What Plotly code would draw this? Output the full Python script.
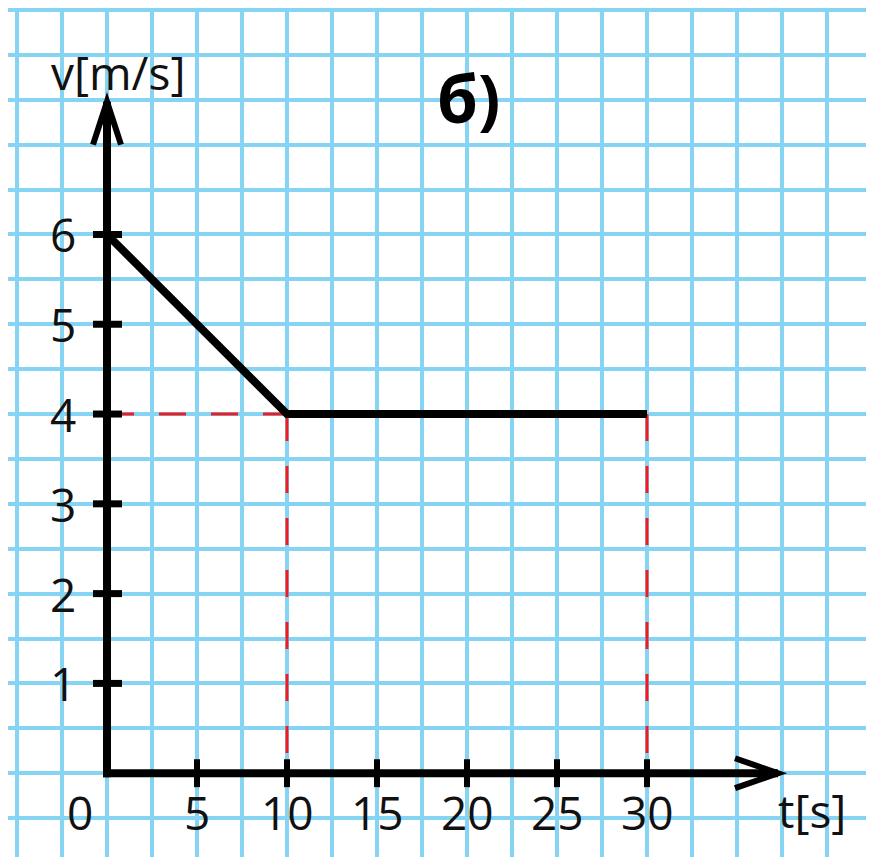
import plotly.graph_objects as go

# ---- data ----
t_values = [0, 10, 30]          # time [s]
v_values = [6, 4, 4]            # velocity [m/s]
x_ticks = [5, 10, 15, 20, 25, 30]
x_tick_labels = ["5", "10", "15", "20", "25", "30"]
y_ticks = [1, 2, 3, 4, 5, 6]
y_tick_labels = ["1", "2", "3", "4", "5", "6"]
guide_t = [10, 30]              # vertical red guides
guide_v = 4                     # horizontal red guide
x_label = "t[s]"
y_label = "v[m/s]"
title_text = "б)"

# ---- geometry ----
W, H = 866, 849          # page has an 8px body margin
OX, OY = 99, 765         # pixel position of origin inside the figure
PX_T, PX_V = 18, 90      # pixels per second, per m/s


def tx(px):
    return (px - OX) / PX_T


def vy(py):
    return (OY - py) / PX_V


X_MIN, X_MAX = tx(0), tx(W)
Y_MIN, Y_MAX = vy(H), vy(-2)
X_ARROW_TIP = tx(OX + 671)
Y_ARROW_TIP = vy(OY - 673)

BLACK = "#000000"
RED = "#ec1c24"
GRID = "#86d4f4"
FONT = "Open Sans"

fig = go.Figure()

# red dashed guides
fig.add_trace(go.Scatter(x=[0, guide_t[0]], y=[guide_v, guide_v], mode="lines",
                         line=dict(color=RED, width=3, dash="27px,25px"),
                         hoverinfo="skip", showlegend=False))
for gt in guide_t:
    fig.add_trace(go.Scatter(x=[gt, gt], y=[guide_v, 0], mode="lines",
                             line=dict(color=RED, width=3, dash="27px,25px"),
                             hoverinfo="skip", showlegend=False))

shapes = []
# axes
shapes.append(dict(type="line", xref="x", yref="y", x0=0, y0=-4 / PX_V, x1=0, y1=Y_ARROW_TIP,
                   line=dict(color=BLACK, width=8)))
shapes.append(dict(type="line", xref="x", yref="y", x0=-4 / PX_T, y0=0, x1=X_ARROW_TIP, y1=0,
                   line=dict(color=BLACK, width=8)))
# arrowheads
ax_dx = 14 / PX_T
ax_back_v = Y_ARROW_TIP - 43 / PX_V
shapes.append(dict(type="path", xref="x", yref="y",
                   path=f"M {-ax_dx} {ax_back_v} L 0 {Y_ARROW_TIP} L {ax_dx} {ax_back_v}",
                   line=dict(color=BLACK, width=6)))
ay_dv = 15 / PX_V
ay_back_t = X_ARROW_TIP - 43 / PX_T
shapes.append(dict(type="path", xref="x", yref="y",
                   path=f"M {ay_back_t} {ay_dv} L {X_ARROW_TIP} 0 L {ay_back_t} {-ay_dv}",
                   line=dict(color=BLACK, width=6)))
# tick marks
for yt in y_ticks:
    shapes.append(dict(type="line", xref="x", yref="y", x0=-14 / PX_T, x1=15 / PX_T, y0=yt, y1=yt,
                       line=dict(color=BLACK, width=7)))
for xt in x_ticks:
    shapes.append(dict(type="line", xref="x", yref="y", x0=xt, x1=xt, y0=-14 / PX_V, y1=14 / PX_V,
                       line=dict(color=BLACK, width=6)))

# main velocity line
fig.add_trace(go.Scatter(x=t_values, y=v_values, mode="lines",
                         line=dict(color=BLACK, width=8),
                         hoverinfo="skip", showlegend=False))

annotations = []
lab_font = dict(family=FONT, size=46, color="#111111")
for yt, lab in zip(y_ticks, y_tick_labels):
    annotations.append(dict(x=-44 / PX_T, y=yt, xref="x", yref="y", text=lab, showarrow=False,
                            xanchor="center", yanchor="middle", font=lab_font))
for xt, lab in zip(x_ticks, x_tick_labels):
    annotations.append(dict(x=xt, y=-39 / PX_V, xref="x", yref="y", text=lab, showarrow=False,
                            xanchor="center", yanchor="middle", font=lab_font))
annotations.append(dict(x=-1.5, y=-39 / PX_V, xref="x", yref="y", text="0", showarrow=False,
                        xanchor="center", yanchor="middle", font=lab_font))
annotations.append(dict(x=705 / PX_T, y=-37 / PX_V, xref="x", yref="y", text=x_label,
                        showarrow=False, xanchor="center", yanchor="middle", font=lab_font))
annotations.append(dict(x=11 / PX_T, y=703 / PX_V, xref="x", yref="y", text=y_label,
                        showarrow=False, xanchor="center", yanchor="middle", font=lab_font))
annotations.append(dict(x=361 / PX_T, y=678 / PX_V, xref="x", yref="y",
                        text="<b>" + title_text + "</b>", showarrow=False,
                        xanchor="center", yanchor="middle",
                        font=dict(family=FONT, size=66, color="#000000")))

fig.update_layout(
    width=W, height=H,
    margin=dict(l=0, r=0, t=0, b=0),
    paper_bgcolor="white", plot_bgcolor="white",
    shapes=shapes, annotations=annotations,
    showlegend=False,
    xaxis=dict(range=[X_MIN, X_MAX], showgrid=True, gridcolor=GRID, gridwidth=3.5,
               tick0=0, dtick=2.5, showticklabels=False, zeroline=False, showline=False,
               ticks="", fixedrange=True),
    yaxis=dict(range=[Y_MIN, Y_MAX], showgrid=True, gridcolor=GRID, gridwidth=3.5,
               tick0=0, dtick=0.5, showticklabels=False, zeroline=False, showline=False,
               ticks="", fixedrange=True),
)

fig.write_html("out.html")
